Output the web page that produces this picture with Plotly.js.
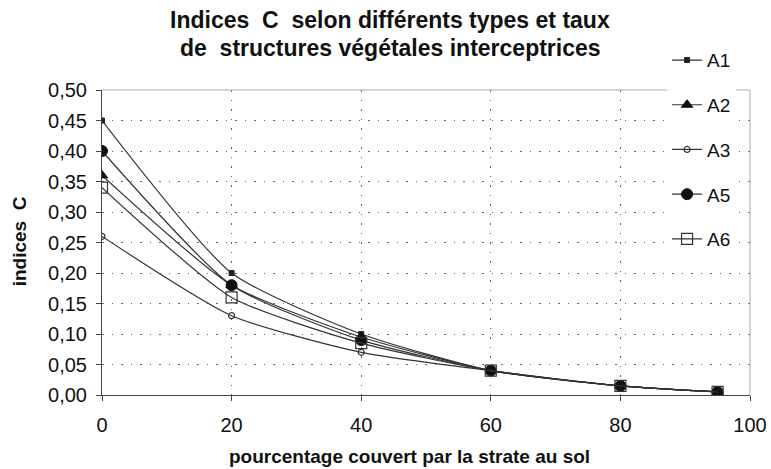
<!DOCTYPE html>
<html><head><meta charset="utf-8">
<script src="https://cdn.plot.ly/plotly-3.0.1.min.js"></script>
<style>body{margin:0;background:#fff}#c{width:771px;height:469px}</style>
</head><body><div id="c"></div>
<script>
const xVals = [0, 20, 40, 60, 80, 95];
const seriesNames = ["A1", "A2", "A3", "A5", "A6"];
const A1 = [0.45, 0.20, 0.10, 0.04, 0.015, 0.005];
const A2 = [0.36, 0.18, 0.095, 0.04, 0.015, 0.005];
const A3 = [0.26, 0.13, 0.07, 0.04, 0.015, 0.005];
const A5 = [0.40, 0.18, 0.09, 0.04, 0.015, 0.005];
const A6 = [0.34, 0.16, 0.085, 0.04, 0.015, 0.005];
const yTicks = [0, 0.05, 0.10, 0.15, 0.20, 0.25, 0.30, 0.35, 0.40, 0.45, 0.50];
const xTicks = [0, 20, 40, 60, 80, 100];
const titleLines = ["Indices  C  selon différents types et taux", "de  structures végétales interceptrices"];
const xTitle = "pourcentage couvert par la strate au sol";
const yTitle = "indices  C";

const values = [A1, A2, A3, A5, A6];
const markers = [
  {symbol: "square", size: 5, color: "#222", line: {color: "#222", width: 1}},
  {symbol: "triangle-up", size: 10, color: "#111", line: {color: "#111", width: 1}},
  {symbol: "circle-open", size: 6, color: "#333", line: {color: "#333", width: 1.2}},
  {symbol: "circle", size: 11, color: "#111", line: {color: "#111", width: 1}},
  {symbol: "square-open", size: 11, color: "#333", line: {color: "#333", width: 1.2}}
];
const traces = seriesNames.map((n, i) => ({
  x: xVals, y: values[i], name: n, type: "scatter", mode: "lines+markers",
  legendgroup: n,
  line: {color: "#333", width: 1.2, shape: "spline", smoothing: 0.6},
  marker: markers[i]
}));

const layout = {
  width: 771, height: 469,
  margin: {l: 102, r: 21, t: 90, b: 74},
  paper_bgcolor: "#fff", plot_bgcolor: "#fff",
  separators: ", ",
  font: {family: "Liberation Sans, Arial, sans-serif", color: "#111", size: 20},
  xaxis: {
    range: [0, 100], tickvals: xTicks, ticktext: xTicks.map(String),
    showgrid: true, gridcolor: "#666", griddash: "1.5px,8px", gridwidth: 1,
    showline: true, linecolor: "#444", linewidth: 1, mirror: false,
    ticks: "outside", ticklen: 5, tickcolor: "#444", zeroline: false,
    tickfont: {size: 20}, automargin: false, ticklabelstandoff: 7
  },
  yaxis: {
    range: [0, 0.5], tickvals: yTicks, tickformat: ".2f",
    showgrid: true, gridcolor: "#666", griddash: "1.5px,8px", gridwidth: 1,
    showline: true, linecolor: "#444", linewidth: 1,
    ticks: "outside", ticklen: 5, tickcolor: "#444", zeroline: false,
    tickfont: {size: 20}, automargin: false, ticklabelstandoff: 5
  },
  annotations: [
    {text: "<b>" + titleLines[0] + "</b>", xref: "paper", yref: "paper", x: 0.445, y: 1.2295, xanchor: "center", yanchor: "middle", showarrow: false, font: {size: 23, color: "#111"}},
    {text: "<b>" + titleLines[1] + "</b>", xref: "paper", yref: "paper", x: 0.445, y: 1.138, xanchor: "center", yanchor: "middle", showarrow: false, font: {size: 23, color: "#111"}},
    {text: "<b>" + xTitle + "</b>", xref: "paper", yref: "paper", x: 0.474, y: -0.203, xanchor: "center", yanchor: "middle", showarrow: false, font: {size: 19, color: "#111"}},
    {text: "<b>" + yTitle + "</b>", xref: "paper", yref: "paper", x: -0.126, y: 0.505, xanchor: "center", yanchor: "middle", textangle: -90, showarrow: false, font: {size: 19, color: "#111"}}
  ],
  shapes: [
    {type: "line", xref: "paper", yref: "paper", x0: 0, x1: 1, y0: 1, y1: 1, line: {color: "#aaa", width: 1}},
    {type: "line", xref: "paper", yref: "paper", x0: 1, x1: 1, y0: 0, y1: 1, line: {color: "#aaa", width: 1}}
  ],
  showlegend: true,
  legend: {
    x: 0.872, xanchor: "left", y: 1.16, yanchor: "top",
    bgcolor: "#fff", borderwidth: 0, tracegroupgap: 17,
    font: {size: 19}, itemwidth: 30, traceorder: "grouped"
  }
};
Plotly.newPlot("c", traces, layout, {displayModeBar: false, staticPlot: true});
</script></body></html>
